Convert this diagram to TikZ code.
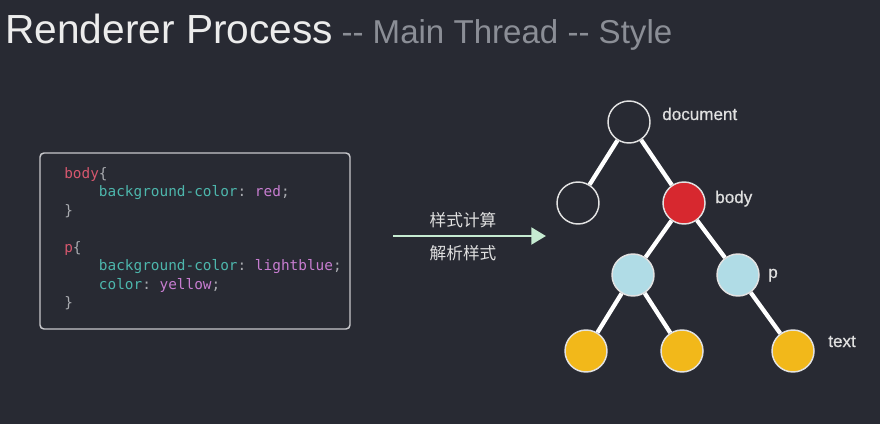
\documentclass[tikz,border=0pt]{standalone}
\usepackage{fontspec}
\setmainfont{Liberation Sans}
\setmonofont{DejaVu Sans Mono}
\newfontfamily\cjk{Noto Sans CJK SC}
\newfontfamily\treefont[FakeBold=0.6]{Liberation Sans}
\usetikzlibrary{positioning,arrows.meta}

\definecolor{bg}{HTML}{282A33}
\definecolor{titlewhite}{HTML}{ECECEC}
\definecolor{subgray}{HTML}{8B8E96}
\definecolor{boxline}{HTML}{C8C8CC}
\definecolor{cssred}{HTML}{D5576E}
\definecolor{csspun}{HTML}{A9ABB0}
\definecolor{cssteal}{HTML}{4DB6AC}
\definecolor{csspurple}{HTML}{C77DD0}
\definecolor{arrowgreen}{HTML}{C6ECD2}
\definecolor{labelgray}{HTML}{E0E0E0}
\definecolor{nodeline}{HTML}{E2E2E2}
\definecolor{bodyred}{HTML}{D7282F}
\definecolor{pblue}{HTML}{B0DCE6}
\definecolor{textyellow}{HTML}{F2B81A}

\newcommand{\csssel}[1]{\textcolor{cssred}{#1}}
\newcommand{\csspun}[1]{\textcolor{csspun}{#1}}
\newcommand{\cssprop}[1]{\textcolor{cssteal}{#1}}
\newcommand{\cssval}[1]{\textcolor{csspurple}{#1}}
\newcommand{\cssind}{\phantom{0000}}

\begin{document}
\begin{tikzpicture}[x=0.75pt,y=-0.75pt,
	dom/.style={draw=nodeline, circle, line width=1.1pt, minimum size=31.5pt, inner sep=0pt},
	edge/.style={draw=white, line width=3.2pt},
	lbl/.style={anchor=base west, inner sep=0pt, text=labelgray, font=\treefont\fontsize{12.8}{15}\selectfont},
	flow/.style={draw=arrowgreen, line width=2.2pt, -{Triangle[length=11pt,width=12.5pt]}},
	steplabel/.style={inner sep=0pt, text=labelgray, font=\cjk\fontsize{12.5}{15}\selectfont},
	codebox/.style={draw=boxline, line width=1.1pt, rounded corners=3pt, minimum width=232.5pt, minimum height=132pt},
	code/.style={anchor=north west, inner sep=0pt, align=left, font=\ttfamily\fontsize{10.8}{13.9}\selectfont}]
				\fill[bg] (0,0) rectangle (880,424);
				\useasboundingbox (0,0) rectangle (880,424);
				% title
				\node[anchor=base west, inner sep=0pt, text=titlewhite, font=\fontsize{30.5}{36}\selectfont] (head) at (5,44) {Renderer Process};
				\node[anchor=base west, inner sep=0pt, text=subgray, font=\fontsize{24.8}{29}\selectfont] (sub) at ([xshift=6pt]head.base east) {-{}- Main Thread -{}- Style};
				% css source
				\node[codebox] (css) at (195,241) {};
				\node[code] (rules) at (64,167) {\csssel{body}\csspun{\{}\\
					\cssind\cssprop{background-color}\csspun{:} \cssval{red}\csspun{;}\\
					\csspun{\}}\\
					\mbox{}\\
					\csssel{p}\csspun{\{}\\
					\cssind\cssprop{background-color}\csspun{:} \cssval{lightblue}\csspun{;}\\
					\cssind\cssprop{color}\csspun{:} \cssval{yellow}\csspun{;}\\
					\csspun{\}}};
				% arrow
				\coordinate (src) at (393,236);
				\coordinate (dst) at (546,236);
				\draw[flow] (src) -- (dst);
				\node[steplabel] (calc) at (463,220) {样式计算};
				\node[steplabel] (parse) at (463,253) {解析样式};
				% tree
				\node[dom] (doc) at (629,122) {};
				\node[dom] (blank) at (578,203) {};
				\node[dom, fill=bodyred] (body) at (684,203) {};
				\node[dom, fill=pblue] (pa) at (633,275) {};
				\node[dom, fill=pblue] (pb) at (738,275) {};
				\node[dom, fill=textyellow] (ta) at (586,351) {};
				\node[dom, fill=textyellow] (tb) at (682,351) {};
				\node[dom, fill=textyellow] (tc) at (793,351) {};
				\draw[edge] (doc) -- (blank);
				\draw[edge] (doc) -- (body);
				\draw[edge] (body) -- (pa);
				\draw[edge] (body) -- (pb);
				\draw[edge] (pa) -- (ta);
				\draw[edge] (pa) -- (tb);
				\draw[edge] (pb) -- (tc);
				\node[lbl] (doclbl) at (662,120) {document};
				\node[lbl] (bodylbl) at (715,203) {body};
				\node[lbl] (plbl) at (768,278) {p};
				\node[lbl] (textlbl) at (828,347) {text};
\end{tikzpicture}
\end{document}
